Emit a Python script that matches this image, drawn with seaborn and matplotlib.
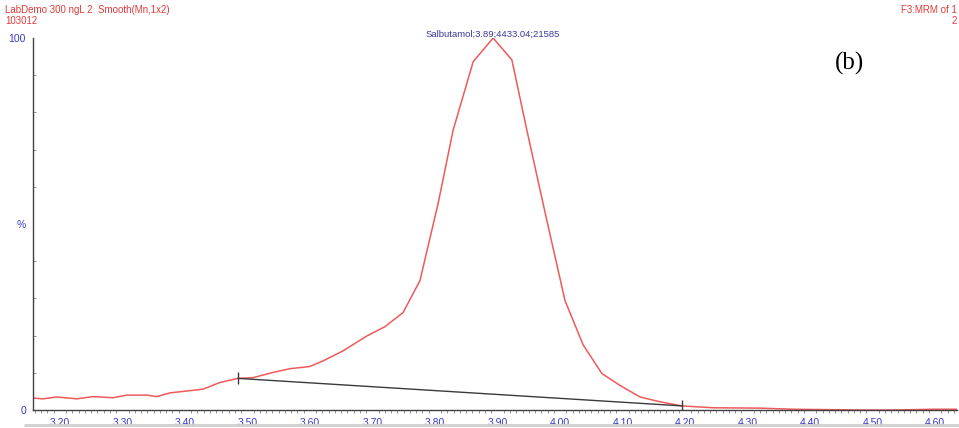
import numpy as np
import pandas as pd
import matplotlib
matplotlib.use("Agg")
import matplotlib.pyplot as plt
import seaborn as sns
from matplotlib.ticker import MultipleLocator, FixedLocator
from matplotlib.lines import Line2D

# ---- data ----
time_min = [3.157, 3.173, 3.195, 3.227, 3.253, 3.285, 3.307, 3.339, 3.355, 3.376,
            3.403, 3.429, 3.456, 3.485, 3.509, 3.541, 3.568, 3.600, 3.621, 3.653,
            3.691, 3.720, 3.749, 3.776, 3.805, 3.829, 3.861, 3.893, 3.923, 3.947,
            3.979, 4.008, 4.037, 4.067, 4.096, 4.128, 4.160, 4.195, 4.245, 4.320,
            4.373, 4.480, 4.533, 4.597, 4.635]
intensity_pct = [3.2, 3.0, 3.5, 3.0, 3.6, 3.3, 4.0, 4.0, 3.6, 4.6,
                 5.1, 5.6, 7.4, 8.5, 8.7, 10.1, 11.1, 11.7, 13.2, 15.9,
                 19.9, 22.4, 26.2, 34.8, 55.5, 75.2, 93.6, 100.0, 94.1, 75.2,
                 50.9, 29.4, 17.5, 9.8, 6.6, 3.5, 2.2, 1.1, 0.6, 0.5,
                 0.2, 0.0, 0.0, 0.2, 0.2]
baseline_time = [3.485, 4.195]
baseline_pct = [8.5, 1.1]

x_ticks = [3.20, 3.30, 3.40, 3.50, 3.60, 3.70, 3.80, 3.90, 4.00, 4.10, 4.20, 4.30, 4.40, 4.50, 4.60]
x_tick_labels = ["3.20", "3.30", "3.40", "3.50", "3.60", "3.70", "3.80", "3.90",
                 "4.00", "4.10", "4.20", "4.30", "4.40", "4.50", "4.60"]
y_ticks = [0, 50, 100]
y_tick_labels = ["0", "%", "100"]

peak_label = "Salbutamol;3.89;4433.04;21585"
peak_time = 3.893
peak_value = 100.0

header_left = "LabDemo 300 ngL 2  Smooth(Mn,1x2)\n103012"
header_right = "F3:MRM of 1\n2"
panel_label = "(b)"

# ---- style ----
sns.set_theme(style="white")
plt.rcParams['font.family'] = ['Liberation Sans', 'DejaVu Sans']

curve_df = pd.DataFrame({"time": time_min, "pct": intensity_pct})
base_df = pd.DataFrame({"time": baseline_time, "pct": baseline_pct})

W, H = 959, 428
fig = plt.figure(figsize=(W / 100, H / 100), dpi=100)
ax = fig.add_axes([33 / W, 1 - 410 / H, (957 - 33) / W, (410 - 38) / H])

sns.lineplot(data=curve_df, x="time", y="pct", ax=ax, color="#ee5a5a", lw=1.1,
             estimator=None, sort=False)
sns.lineplot(data=base_df, x="time", y="pct", ax=ax, color="#3a3a3a", lw=1.0,
             estimator=None, sort=False)
# baseline end markers
ax.plot(baseline_time, baseline_pct, linestyle="none", marker="|", markersize=8,
        color="#3a3a3a", mew=1.0)

ax.set_xlim(3.157, 4.635)
ax.set_ylim(0, 100)
ax.set_xlabel("")
ax.set_ylabel("")

for s in ["top", "right"]:
    ax.spines[s].set_visible(False)
for s in ["left", "bottom"]:
    ax.spines[s].set_color("#404040")
    ax.spines[s].set_linewidth(1.0)

tick_blue = "#3b3bc8"
ax.xaxis.set_major_locator(FixedLocator(x_ticks))
ax.set_xticklabels(x_tick_labels)
ax.xaxis.set_minor_locator(MultipleLocator(0.01))
ax.tick_params(axis="x", which="major", direction="out", length=4, width=0.8,
               color="#606060", labelsize=7.5, labelcolor=tick_blue, pad=2)
ax.tick_params(axis="x", which="minor", direction="out", length=2, width=0.6,
               color="#808080", bottom=True)

ax.yaxis.set_major_locator(FixedLocator(y_ticks))
ax.set_yticklabels(y_tick_labels)
ax.yaxis.set_minor_locator(MultipleLocator(10))
ax.tick_params(axis="y", which="major", direction="out", length=3, width=0.8,
               color="#606060", labelsize=7.5, labelcolor=tick_blue, pad=2)
ax.tick_params(axis="y", which="minor", direction="in", length=2, width=0.6,
               color="#808080", left=True)

# annotations
ax.text(peak_time, peak_value - 0.2, peak_label, ha="center", va="bottom",
        fontsize=6.8, color="#3a3a9a")
fig.text(5 / W, 1 - 5 / H, header_left, ha="left", va="top", fontsize=7,
         color="#e03a3a", linespacing=1.15)
fig.text(957 / W, 1 - 5 / H, header_right, ha="right", va="top", fontsize=7,
         color="#e03a3a", linespacing=1.15, multialignment="right")
fig.text(850 / W, 1 - 63 / H, panel_label, ha="center", va="center", fontsize=18,
         color="black", family=["Liberation Serif", "DejaVu Serif"])

# bottom window border
fig.add_artist(Line2D([25 / W, 1.0], [1 - 425 / H, 1 - 425 / H],
                      transform=fig.transFigure, color="#d0d0d0", lw=2))

fig.savefig("out.png", dpi=100)
